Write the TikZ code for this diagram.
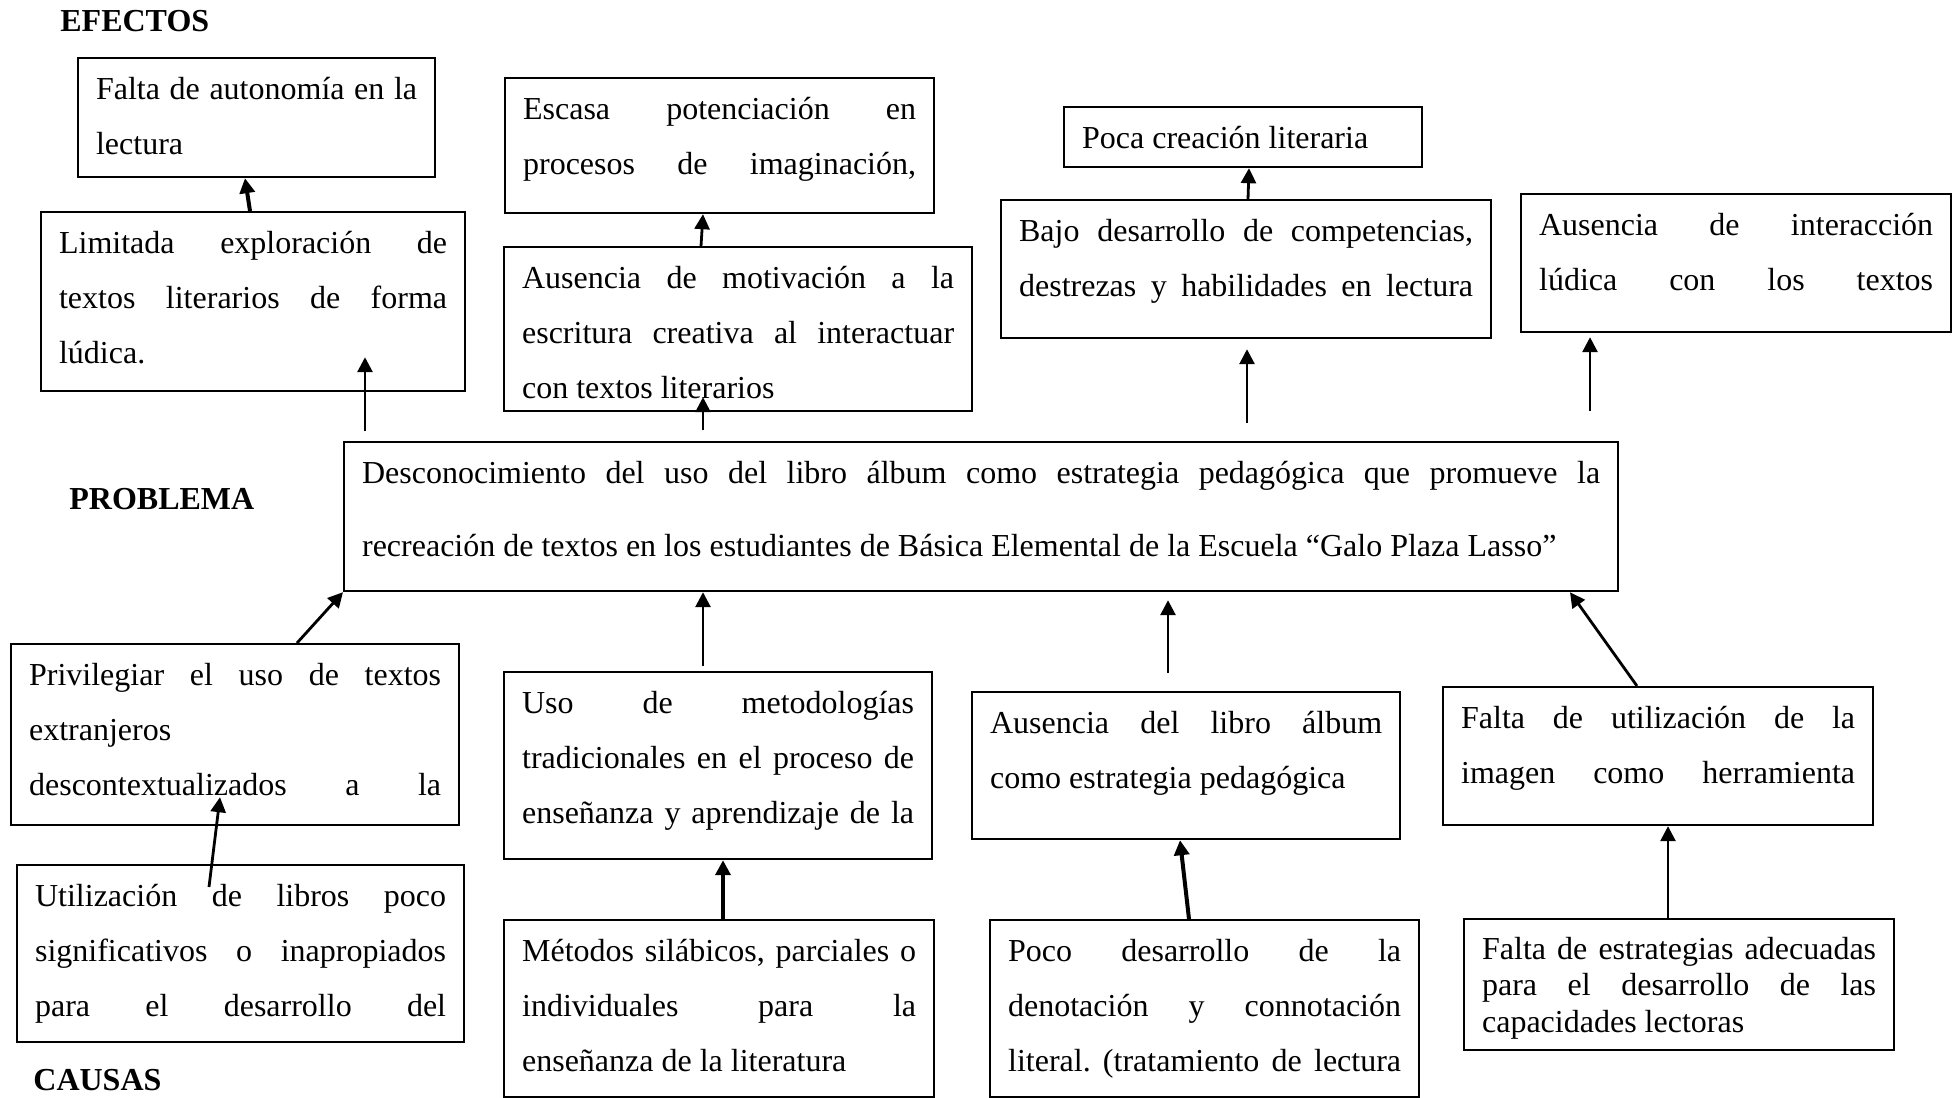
\documentclass[tikz,border=0pt]{standalone}
\usepackage{fontspec}
\setmainfont{Liberation Serif}
\usetikzlibrary{arrows.meta}
\tolerance=10000
\hbadness=10000
\hfuzz=3pt
\hyphenpenalty=10000
\exhyphenpenalty=10000
\frenchspacing
\newcommand{\todojust}{{\parfillskip=0pt\par}}
\tikzset{
  caja/.style={draw, line width=1.1pt, anchor=north west, inner xsep=9pt, inner ysep=0pt,
    text height=20.5pt, align=justify, font=\fontsize{16}{27.5}\selectfont},
  titulo/.style={anchor=base west, inner sep=0pt, font=\fontsize{16}{19}\selectfont\bfseries},
  flecha/.style={line width=1.4pt, -{Triangle[length=7.5pt,width=7.5pt]}},
  flecha gruesa/.style={flecha, line width=2pt}
}
\begin{document}
\begin{tikzpicture}[x=0.5pt, y=-0.5pt]
    \useasboundingbox (0,0) rectangle (1957,1097);
    % efectos
    \node[titulo] (tefectos) at (60,32) {EFECTOS};
    \node[caja, text width=160.5pt, text depth=39pt] (autonomia) at (77,57)
        {Falta de autonomía en la\linebreak lectura};
    \node[caja, text width=194pt, text depth=69pt] (exploracion) at (40,211)
        {Limitada exploración de\linebreak textos literarios de forma\linebreak lúdica.};
    \node[caja, text width=196.5pt, text depth=47pt] (potenciacion) at (504,77)
        {Escasa potenciación en\linebreak procesos de imaginación,\todojust};
    \node[caja, text width=216pt, text depth=61.5pt] (motivacion) at (503,246)
        {Ausencia de motivación a la\linebreak escritura creativa al interactuar\linebreak con textos literarios};
    \node[caja, text width=161pt, text depth=9.5pt] (creacion) at (1063,106)
        {Poca creación literaria};
    \node[caja, text width=227pt, text depth=48.5pt] (competencias) at (1000,199)
        {Bajo desarrollo de competencias,\linebreak destrezas y habilidades en lectura\todojust};
    \node[caja, text width=197pt, text depth=48.5pt] (interaccion) at (1520,193)
        {Ausencia de interacción\linebreak lúdica con los textos\todojust};
    % problema
    \node[titulo] (tproblema) at (69,509) {PROBLEMA};
    \node[caja, text width=619pt, text depth=54pt, font=\fontsize{16}{36.5}\selectfont] (problema) at (343,441)
        {Desconocimiento del uso del libro álbum como estrategia pedagógica que promueve la\linebreak recreación de textos en los estudiantes de Básica Elemental de la Escuela “Galo Plaza Lasso”};
    % causas
    \node[caja, text width=206pt, text depth=70pt] (privilegiar) at (10,643)
        {Privilegiar el uso de textos\linebreak extranjeros\newline descontextualizados a la\todojust};
    \node[caja, text width=205.5pt, text depth=68pt] (libros) at (16,864)
        {Utilización de libros poco\linebreak significativos o inapropiados\linebreak para el desarrollo del\todojust};
    \node[caja, text width=196pt, text depth=73pt] (metodologias) at (503,671)
        {Uso de metodologías\linebreak tradicionales en el proceso de\linebreak enseñanza y aprendizaje de la\todojust};
    \node[caja, text width=197pt, text depth=68pt] (metodos) at (503,919)
        {Métodos silábicos, parciales o\linebreak individuales para la\linebreak enseñanza de la literatura};
    \node[caja, text width=196pt, text depth=53pt] (album) at (971,691)
        {Ausencia del libro álbum\linebreak como estrategia pedagógica};
    \node[caja, text width=196.5pt, text depth=68pt] (denotacion) at (989,919)
        {Poco desarrollo de la\linebreak denotación y connotación\linebreak literal. (tratamiento de lectura\todojust};
    \node[caja, text width=197pt, text depth=48.5pt] (imagen) at (1442,686)
        {Falta de utilización de la\linebreak imagen como herramienta\todojust};
    \node[caja, text width=197pt, text height=20pt, text depth=45.5pt, font=\fontsize{16}{18.3}\selectfont] (estrategias) at (1463,918)
        {Falta de estrategias adecuadas\linebreak para el desarrollo de las\linebreak capacidades lectoras};
    \node[titulo] (tcausas) at (33,1090) {CAUSAS};
    % flechas hacia los efectos
    \draw[flecha gruesa] (exploracion.north -| 250,0) -- (autonomia.south -| 245,0);
    \draw[flecha] ([yshift=5pt]problema.north -| 365,0) -- ([yshift=17.5pt]exploracion.south -| 365,0);
    \draw[flecha] (motivacion.north -| 701,0) -- (potenciacion.south -| 703,0);
    \draw[flecha] ([yshift=5.5pt]problema.north -| 703,0) -- ([yshift=7.5pt]motivacion.south -| 703,0);
    \draw[flecha] (competencias.north -| 1248,0) -- (creacion.south -| 1249,0);
    \draw[flecha] ([yshift=9pt]problema.north -| 1247,0) -- ([yshift=-5pt]competencias.south -| 1247,0);
    \draw[flecha] ([yshift=15pt]problema.north -| 1590,0) -- ([yshift=-2pt]interaccion.south -| 1590,0);
    % flechas desde las causas
    \draw[flecha] (privilegiar.north -| 297,0) -- (problema.south west);
    \draw[flecha] ([yshift=-11.5pt]libros.north -| 209,0) -- ([yshift=14.5pt]privilegiar.south -| 220,0);
    \draw[flecha] ([yshift=2.5pt]metodologias.north -| 703,0) -- (problema.south -| 703,0);
    \draw[flecha gruesa] (metodos.north -| 723,0) -- (metodologias.south -| 723,0);
    \draw[flecha] ([yshift=9pt]album.north -| 1168,0) -- ([yshift=-4pt]problema.south -| 1168,0);
    \draw[flecha gruesa] (denotacion.north -| 1189,0) -- (album.south -| 1180,0);
    \draw[flecha] (imagen.north -| 1637,0) -- (problema.south -| 1570,0);
    \draw[flecha] (estrategias.north -| 1668,0) -- (imagen.south -| 1668,0);
\end{tikzpicture}
\end{document}
